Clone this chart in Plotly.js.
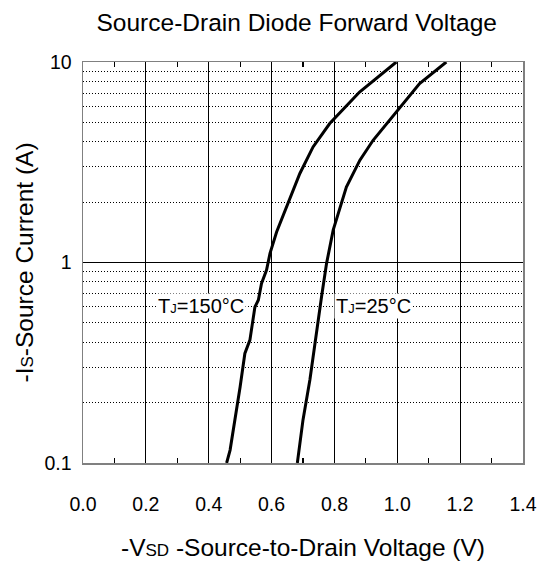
<!DOCTYPE html>
<html>
<head>
<meta charset="utf-8">
<script src="https://cdn.plot.ly/plotly-3.0.1.min.js"></script>
<style>html,body{margin:0;padding:0;background:#fff;}#chart{width:539px;height:566px;}</style>
</head>
<body>
<div id="chart"></div>
<script>
// Data
const v150 = [0.457, 0.468, 0.500, 0.515, 0.531, 0.547, 0.558, 0.568, 0.584, 0.595, 0.616, 0.648, 0.690, 0.732, 0.785, 0.880, 0.944, 0.997];
const i150 = [0.1, 0.116, 0.24, 0.352, 0.41, 0.60, 0.65, 0.787, 0.916, 1.11, 1.42, 1.90, 2.78, 3.77, 4.93, 7.08, 8.6, 10];
const v25 = [0.682, 0.700, 0.722, 0.748, 0.759, 0.775, 0.796, 0.838, 0.881, 0.923, 0.997, 1.071, 1.156];
const i25 = [0.1, 0.164, 0.26, 0.52, 0.675, 0.99, 1.45, 2.38, 3.24, 4.07, 5.63, 7.8, 10];
const xTicks = [0.0, 0.2, 0.4, 0.6, 0.8, 1.0, 1.2, 1.4];
const xTickText = ["0.0", "0.2", "0.4", "0.6", "0.8", "1.0", "1.2", "1.4"];
const xMinor = [0.1, 0.3, 0.5, 0.7, 0.9, 1.1, 1.3];
const yTicks = [0.1, 1, 10];
const yTickText = ["0.1", "1", "10"];
const yMinor = [0.2, 0.3, 0.4, 0.5, 0.6, 0.7, 0.8, 0.9, 2, 3, 4, 5, 6, 7, 8, 9];
const labels = ["T<span style=\"font-size:13px\">J</span>=150°C", "T<span style=\"font-size:13px\">J</span>=25°C"];
const labelX = [0.3756, 0.923];
const labelY = [0.61, 0.61];

const FONT = "Liberation Sans, Arial, sans-serif";

const traces = [
  {x: v150, y: i150, type: "scatter", mode: "lines", line: {color: "#000", width: 3}, hoverinfo: "none"},
  {x: v25, y: i25, type: "scatter", mode: "lines", line: {color: "#000", width: 3}, hoverinfo: "none"},
  {x: [0.7], y: [1], xaxis: "x2", yaxis: "y2", type: "scatter", mode: "none", hoverinfo: "none", showlegend: false}
];

const layout = {
  width: 539, height: 566,
  margin: {l: 83, r: 16, t: 62, b: 103},
  paper_bgcolor: "#fff", plot_bgcolor: "#fff",
  showlegend: false,
  font: {family: FONT, color: "#000"},
  title: {text: "Source-Drain Diode Forward Voltage", font: {size: 24.5, family: FONT, color: "#000"},
          x: 0.5505, xref: "container", xanchor: "center", y: 1 - 22/566, yref: "container", yanchor: "middle"},
  xaxis: {
    range: [0, 1.4], tickvals: xTicks, ticktext: xTickText,
    showgrid: true, gridcolor: "#000", gridwidth: 1,
    showline: true, linecolor: "#808080", linewidth: 1.5, mirror: true,
    ticks: "", zeroline: false,
    tickfont: {size: 19.5, family: FONT, color: "#000"},
    ticklabelstandoff: 23,
    title: {text: "-V<span style=\"font-size:17px\">SD</span> -Source-to-Drain Voltage (V)", font: {size: 24.5, family: FONT, color: "#000"}, standoff: 25}
  },
  xaxis2: {
    range: [0, 1.4], overlaying: "x", side: "bottom",
    tickvals: xMinor, showticklabels: false,
    ticks: "inside", ticklen: 5, tickwidth: 1.2, tickcolor: "#000",
    showline: true, linecolor: "#808080", linewidth: 1.5, mirror: "ticks",
    showgrid: false, zeroline: false
  },
  yaxis: {
    type: "log", range: [-1, 1], tickvals: yTicks, ticktext: yTickText,
    showgrid: true, gridcolor: "#000", gridwidth: 1,
    showline: true, linecolor: "#808080", linewidth: 1.5, mirror: true,
    ticks: "", zeroline: false,
    tickfont: {size: 19.5, family: FONT, color: "#000"},
    ticklabelstandoff: 6,
    title: {text: "-I<span style=\"font-size:17px\">S</span>-Source Current (A)", font: {size: 24.5, family: FONT, color: "#000"}, standoff: 4}
  },
  yaxis2: {
    type: "log", range: [-1, 1], overlaying: "y", side: "left",
    tickvals: yMinor, showticklabels: false, ticks: "",
    showgrid: true, gridcolor: "#000", gridwidth: 1, griddash: "1px,2px",
    showline: false, zeroline: false, layer: "below traces"
  },
  annotations: labels.map((t, k) => ({
    text: t, x: labelX[k], y: Math.log10(labelY[k]), xref: "x", yref: "y",
    showarrow: false, bgcolor: "#fff", borderpad: 1,
    xanchor: "center", yanchor: "middle",
    font: {size: 20, family: FONT, color: "#000"}
  }))
};

Plotly.newPlot("chart", traces, layout, {staticPlot: true, displayModeBar: false});
</script>
</body>
</html>
